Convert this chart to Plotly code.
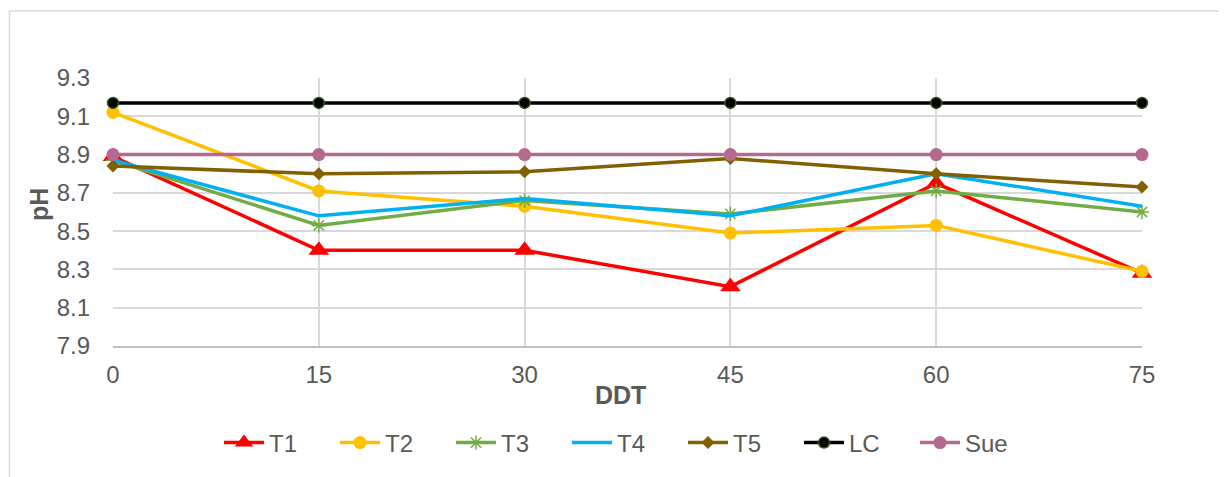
import plotly.graph_objects as go

ddt = [0, 15, 30, 45, 60, 75]
t1 = [8.89, 8.40, 8.40, 8.21, 8.75, 8.28]
t2 = [9.12, 8.71, 8.63, 8.49, 8.53, 8.29]
t3 = [8.87, 8.53, 8.66, 8.59, 8.71, 8.60]
t4 = [8.87, 8.58, 8.67, 8.58, 8.80, 8.63]
t5 = [8.84, 8.80, 8.81, 8.88, 8.80, 8.73]
lc = [9.17, 9.17, 9.17, 9.17, 9.17, 9.17]
sue = [8.90, 8.90, 8.90, 8.90, 8.90, 8.90]
y_ticks = [7.9, 8.1, 8.3, 8.5, 8.7, 8.9, 9.1, 9.3]

FONT = "Liberation Sans, Arial, sans-serif"
GRAY = "#595959"

# page has an 8px body margin; figure occupies page px 8..1227, 8..477
W, H = 1219, 469
PL, PR, PT, PB = 113 - 8, 1142 - 8, 78 - 8, 346 - 8  # plot area in figure px
PW, PH = PR - PL, PB - PT


def px_x(page_x):
    return (page_x - 8 - PL) / PW


def px_y(page_y):
    return (PB - (page_y - 8)) / PH


fig = go.Figure()
series = [
    ("T1", t1, "#FF0000", dict(symbol="triangle-up", size=18, color="#FF0000")),
    ("T2", t2, "#FFC000", dict(symbol="circle", size=13, color="#FFC000")),
    ("T3", t3, "#70AD47", dict(symbol="asterisk-open", size=12, color="#70AD47", line=dict(color="#70AD47", width=1.5))),
    ("T4", t4, "#00B0F0", None),
    ("T5", t5, "#806000", dict(symbol="diamond", size=10, color="#806000")),
    ("LC", lc, "#000000", dict(symbol="circle", size=11, color="#000000", line=dict(color="#375623", width=1.5))),
    ("Sue", sue, "#B4698F", dict(symbol="circle", size=13, color="#B4698F")),
]
for name, vals, col, mk in series:
    fig.add_trace(go.Scatter(
        x=ddt, y=vals, name=name,
        mode="lines+markers" if mk else "lines",
        line=dict(color=col, width=3.5),
        marker=mk if mk else None,
        cliponaxis=False,
    ))

fig.update_layout(
    width=W, height=H,
    margin=dict(l=PL, r=W - PR, t=PT, b=H - PB, autoexpand=False),
    paper_bgcolor="white", plot_bgcolor="white",
    font=dict(family=FONT, color=GRAY, size=24),
    showlegend=True,
    legend=dict(orientation="h", x=px_x(625), xanchor="center", y=px_y(443), yanchor="middle",
                font=dict(size=24, color=GRAY), entrywidth=61, traceorder="normal",
                itemwidth=40),
    xaxis=dict(range=[0, 75], tickvals=ddt, ticktext=[str(v) for v in ddt],
               showgrid=True, gridcolor="#D9D9D9", gridwidth=1.5,
               showline=True, linecolor="#BFBFBF", linewidth=2, mirror=False,
               zeroline=False, ticks="", ticklabelstandoff=6,
               tickfont=dict(size=24, color=GRAY)),
    yaxis=dict(range=[7.9, 9.3], tickvals=y_ticks, ticktext=[f"{v:.1f}" for v in y_ticks],
               showgrid=True, gridcolor="#D9D9D9", gridwidth=1.5,
               showline=False, zeroline=False, ticks="", ticklabelstandoff=22,
               tickfont=dict(size=24, color=GRAY)),
    annotations=[
        dict(text="<b>pH</b>", xref="paper", yref="paper", x=px_x(39), y=px_y(205),
             textangle=-90, showarrow=False, font=dict(size=25, color=GRAY),
             xanchor="center", yanchor="middle"),
        dict(text="<b>DDT</b>", xref="paper", yref="paper", x=px_x(620), y=px_y(395),
             showarrow=False, font=dict(size=25, color=GRAY),
             xanchor="center", yanchor="middle"),
    ],
    shapes=[dict(type="rect", xref="paper", yref="paper",
                 x0=px_x(9.5), x1=px_x(1225.5),
                 y0=px_y(495), y1=px_y(11),
                 line=dict(color="#D9D9D9", width=1.5), layer="below")],
)

fig.write_html("out.html")
